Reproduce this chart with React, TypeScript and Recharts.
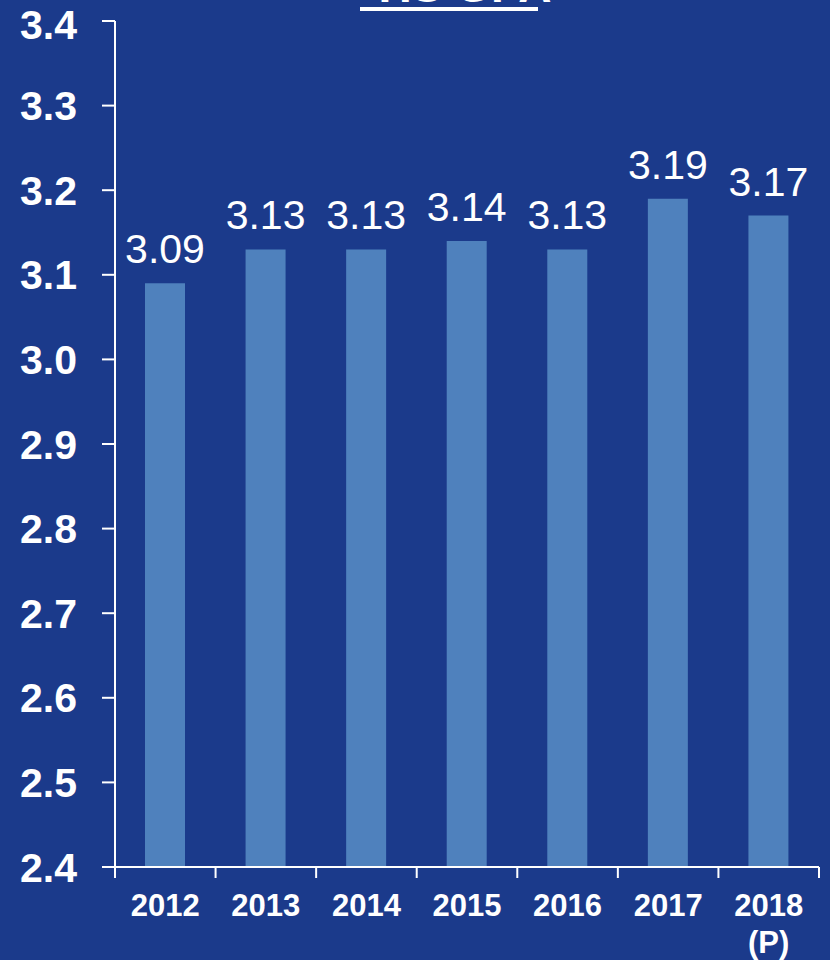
import React from 'react';
import { BarChart, Bar, XAxis, YAxis, LabelList } from 'recharts';

const YEARS = ['2012', '2013', '2014', '2015', '2016', '2017', '2018'];
const SUBLABELS = ['', '', '', '', '', '', '(P)'];
const GPA = [3.09, 3.13, 3.13, 3.14, 3.13, 3.19, 3.17];
const Y_TICKS = [2.4, 2.5, 2.6, 2.7, 2.8, 2.9, 3.0, 3.1, 3.2, 3.3, 3.4];

const BG = '#1B3A8B';
const BAR = '#4F81BD';
const FONT = '"Liberation Sans", Arial, sans-serif';

const W = 830;
const H = 960;
const LEFT = 115;
const RIGHT = 11;
const PLOT_W = W - LEFT - RIGHT;
const BAND = PLOT_W / YEARS.length;

const data = YEARS.map((year, i) => ({ year, sub: SUBLABELS[i], gpa: GPA[i] }));

const XTick = (props: any) => {
  const { x, y, payload, index } = props;
  const sub = SUBLABELS[index];
  return (
    <g>
      <line x1={x - BAND / 2} x2={x - BAND / 2} y1={y} y2={y + 11} stroke="#fff" strokeWidth={2} />
      {index === YEARS.length - 1 && (
        <line x1={x + BAND / 2} x2={x + BAND / 2} y1={y} y2={y + 11} stroke="#fff" strokeWidth={2} />
      )}
      <text x={x} y={y + 49} textAnchor="middle" fill="#fff" fontSize={31} fontWeight={700} fontFamily={FONT}>
        {payload.value}
      </text>
      {sub && (
        <text x={x} y={y + 86} textAnchor="middle" fill="#fff" fontSize={31} fontWeight={700} fontFamily={FONT}>
          {sub}
        </text>
      )}
    </g>
  );
};

export default function App() {
  return (
    <div style={{ position: 'absolute', left: 0, top: 0, width: W, height: H, background: BG, overflow: 'hidden', fontFamily: FONT }}>
      <div
        style={{
          position: 'absolute', left: 0, width: W - 100, top: -37, textAlign: 'center',
          fontSize: 46, lineHeight: '46px', fontWeight: 700, color: '#fff', paddingLeft: 100, boxSizing: 'content-box',
        }}
      >
        HS GPA
      </div>
      <div style={{ position: 'absolute', left: 360, top: 7, width: 178, height: 4, background: '#fff' }} />
      <BarChart
        width={W}
        height={H}
        data={data}
        margin={{ top: 21, right: RIGHT, bottom: 0, left: 0 }}
        style={{ position: 'absolute', left: 0, top: 0 }}
      >
        <XAxis
          dataKey="year"
          height={93}
          tickLine={false}
          tickSize={0}
          tickMargin={0}
          axisLine={{ stroke: '#fff', strokeWidth: 2 }}
          tick={<XTick />}
          interval={0}
        />
        <YAxis
          width={LEFT}
          domain={[2.4, 3.4]}
          ticks={Y_TICKS}
          allowDataOverflow
          tickSize={13}
          tickMargin={25}
          tickLine={{ stroke: '#fff', strokeWidth: 2 }}
          axisLine={{ stroke: '#fff', strokeWidth: 2 }}
          tick={{ fill: '#fff', fontSize: 41, fontWeight: 700, fontFamily: FONT }}
          tickFormatter={(v: number) => v.toFixed(1)}
        />
        <Bar dataKey="gpa" fill={BAR} barSize={40} isAnimationActive={false}>
          <LabelList
            dataKey="gpa"
            position="top"
            offset={20}
            fill="#fff"
            fontSize={41}
            fontFamily={FONT}
            formatter={(v: number) => v.toFixed(2)}
          />
        </Bar>
      </BarChart>
    </div>
  );
}
